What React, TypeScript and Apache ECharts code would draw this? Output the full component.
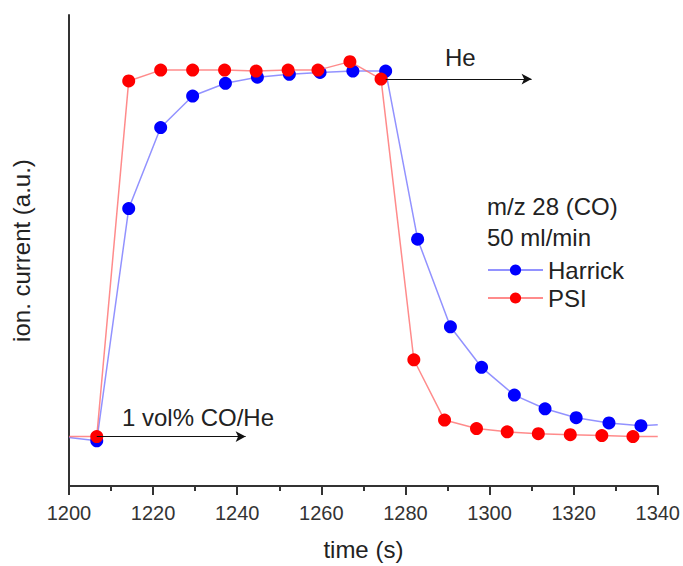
import React, { useEffect, useRef } from "react";
import * as echarts from "echarts";

const harrickTime = [1200, 1206.6, 1214.2, 1221.8, 1229.4, 1237.2, 1244.8, 1252.4, 1259.7, 1267.5, 1275.3, 1282.9, 1290.7, 1298.1, 1305.9, 1313.2, 1320.6, 1328.4, 1336.0, 1340];
const harrickValue = [10.3, 9.6, 58.9, 76.1, 82.8, 85.5, 86.8, 87.4, 87.8, 88.1, 88.1, 52.4, 33.8, 25.2, 19.3, 16.4, 14.5, 13.4, 12.8, 13.0];
const psiTime = [1200, 1206.6, 1214.2, 1221.8, 1229.4, 1237.0, 1244.5, 1252.1, 1259.2, 1266.8, 1274.2, 1282.0, 1289.3, 1296.9, 1304.2, 1311.6, 1319.2, 1326.7, 1334.1, 1340];
const psiValue = [10.5, 10.5, 86.0, 88.3, 88.3, 88.3, 88.1, 88.3, 88.3, 90.1, 86.4, 26.8, 14.0, 12.2, 11.5, 11.1, 10.9, 10.7, 10.5, 10.5];

const xTicks = { min: 1200, max: 1340, interval: 20 };

const FONT = "Liberation Sans, Arial, sans-serif";

function build(times: number[], values: number[]) {
  return times.map((t, i) => {
    const edge = i === 0 || i === times.length - 1;
    return edge ? { value: [t, values[i]], symbol: "none" } : { value: [t, values[i]] };
  });
}

export default function App() {
  const ref = useRef<HTMLDivElement>(null);
  useEffect(() => {
    if (!ref.current) return;
    const chart = echarts.init(ref.current, null, { renderer: "svg" });
    chart.setOption({
      animation: false,
      backgroundColor: "#ffffff",
      textStyle: { fontFamily: FONT },
      grid: { left: 69, right: 23, top: 15, bottom: 74 },
      xAxis: {
        type: "value",
        min: xTicks.min,
        max: xTicks.max,
        interval: xTicks.interval,
        name: "time (s)",
        nameLocation: "middle",
        nameGap: 51,
        nameTextStyle: { fontSize: 24, color: "#222", fontFamily: FONT },
        axisLine: { lineStyle: { color: "#333", width: 2 } },
        axisTick: { show: true, inside: false, length: 9, lineStyle: { color: "#333", width: 2 } },
        minorTick: { show: true, splitNumber: 2, length: 5, lineStyle: { color: "#333", width: 2 } },
        axisLabel: { fontSize: 20, color: "#333", margin: 17, fontFamily: FONT, formatter: (v: number) => String(v) },
        splitLine: { show: false },
      },
      yAxis: {
        type: "value",
        min: 0,
        max: 100,
        name: "ion. current (a.u.)",
        nameLocation: "middle",
        nameGap: 36,
        nameTextStyle: { fontSize: 24, color: "#222", fontFamily: FONT },
        axisLine: { show: true, lineStyle: { color: "#333", width: 2 } },
        axisTick: { show: false },
        axisLabel: { show: false },
        splitLine: { show: false },
      },
      legend: {
        orient: "vertical",
        left: 482,
        top: 253,
        itemWidth: 55,
        itemHeight: 14,
        itemGap: 4,
        textStyle: { fontSize: 24, color: "#222", fontFamily: FONT },
        data: ["Harrick", "PSI"],
      },
      graphic: [
        { type: "text", left: 487, top: 194, style: { text: "m/z 28 (CO)", fontSize: 24, fill: "#222", fontFamily: FONT } },
        { type: "text", left: 487, top: 225, style: { text: "50 ml/min", fontSize: 24, fill: "#222", fontFamily: FONT } },
        { type: "text", left: 122, top: 405, style: { text: "1 vol% CO/He", fontSize: 24, fill: "#222", fontFamily: FONT } },
        { type: "text", left: 445, top: 45, style: { text: "He", fontSize: 24, fill: "#222", fontFamily: FONT } },
      ],
      series: [
        {
          name: "Harrick",
          type: "line",
          data: build(harrickTime, harrickValue),
          symbol: "circle",
          symbolSize: 13,
          itemStyle: { color: "#0000ff" },
          lineStyle: { color: "rgba(110,110,255,0.75)", width: 1.5 },
          z: 2,
        },
        {
          name: "PSI",
          type: "line",
          data: build(psiTime, psiValue),
          symbol: "circle",
          symbolSize: 13,
          itemStyle: { color: "#ff0000" },
          lineStyle: { color: "rgba(255,110,110,0.8)", width: 1.5 },
          z: 3,
          markLine: {
            silent: true,
            symbol: ["none", "arrow"],
            symbolSize: [8, 10],
            label: { show: false },
            lineStyle: { color: "#111", width: 1.2, type: "solid" },
            data: [
              [{ coord: [1206.6, 10.5] }, { coord: [1242, 10.5] }],
              [{ coord: [1275.3, 86.4] }, { coord: [1310, 86.4] }],
            ],
          },
        },
      ],
    });
    return () => chart.dispose();
  }, []);
  return <div ref={ref} style={{ position: "fixed", left: 0, top: 0, width: 683, height: 566 }} />;
}
